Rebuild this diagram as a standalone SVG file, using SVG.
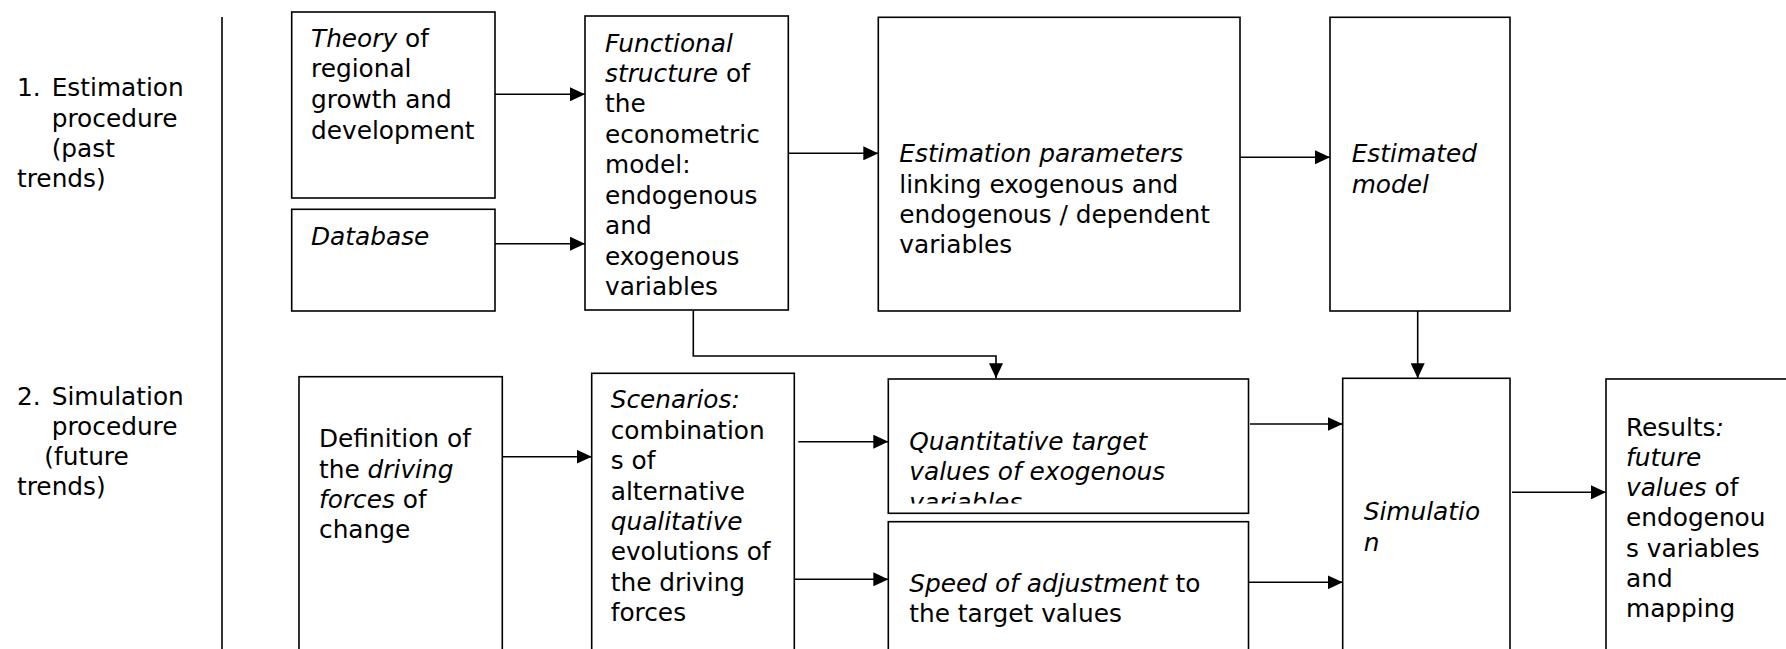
<svg xmlns="http://www.w3.org/2000/svg" width="1786" height="649" viewBox="0 0 1786 649">
<style>
text{font-family:"DejaVu Sans","Verdana",sans-serif;font-size:24.8px;fill:#000}
.i{font-style:italic}
.box{fill:#fff;stroke:#000;stroke-width:1.6}
.c{fill:none;stroke:#000;stroke-width:1.6;marker-end:url(#ah)}
</style>
<defs>
<marker id="ah" viewBox="0 0 15 14" refX="15" refY="7" markerWidth="15" markerHeight="14" markerUnits="userSpaceOnUse" orient="auto">
<path d="M0,0 L15,7 L0,14 Z" fill="#000"/>
</marker>
<clipPath id="qclip"><rect x="889" y="380" width="358" height="123.5"/></clipPath>
</defs>
<rect width="1786" height="649" fill="#fff"/>

<g id="labels">
<line x1="222" y1="17" x2="222" y2="649" stroke="#000" stroke-width="1.6"/>
<text x="17" y="96">1. <tspan x="51.7">Estimation</tspan></text>
<text x="51.7" y="126.5">procedure</text>
<text x="51.7" y="157">(past</text>
<text x="17" y="187">trends)</text>
<text x="17" y="405">2. <tspan x="51.7">Simulation</tspan></text>
<text x="51.7" y="435">procedure</text>
<text x="44.3" y="465">(future</text>
<text x="17" y="495">trends)</text>
</g>

<g id="connectors">
<path class="c" d="M495,94.3 H585"/>
<path class="c" d="M495,243.7 H585"/>
<path class="c" d="M788.3,153.3 H878.3"/>
<path class="c" d="M1240,157.3 H1330"/>
<path class="c" d="M693.3,310 V356 H996 V378.3"/>
<path class="c" d="M1417.7,311 V378.3"/>
<path class="c" d="M502.3,456.7 H591.7"/>
<path class="c" d="M798.3,441.7 H888.3"/>
<path class="c" d="M794.3,579.3 H888.3"/>
<path class="c" d="M1250,424 H1342.7"/>
<path class="c" d="M1248.5,582.3 H1342.7"/>
<path class="c" d="M1512,492.3 H1606"/>
</g>

<g id="theory">
<rect class="box" x="291.7" y="12" width="203.3" height="186"/>
<text x="311" y="46.7"><tspan class="i">Theory</tspan> of</text>
<text x="311" y="77.3">regional</text>
<text x="311" y="108">growth and</text>
<text x="311" y="138.5">development</text>
</g>

<g id="database">
<rect class="box" x="291.7" y="209.3" width="203.3" height="101.7"/>
<text class="i" x="311" y="245">Database</text>
</g>

<g id="functional">
<rect class="box" x="585" y="16" width="203.3" height="294"/>
<text class="i" x="605" y="51.5">Functional</text>
<text x="605" y="82"><tspan class="i">structure</tspan> of</text>
<text x="605" y="112.4">the</text>
<text x="605" y="142.9">econometric</text>
<text x="605" y="173.3">model:</text>
<text x="605" y="203.8">endogenous</text>
<text x="605" y="234.2">and</text>
<text x="605" y="264.7">exogenous</text>
<text x="605" y="295.1">variables</text>
</g>

<g id="estimation-parameters">
<rect class="box" x="878.3" y="17.3" width="361.7" height="293.7"/>
<text class="i" x="899.3" y="162">Estimation parameters</text>
<text x="899.3" y="192.5">linking exogenous and</text>
<text x="899.3" y="223">endogenous / dependent</text>
<text x="899.3" y="253">variables</text>
</g>

<g id="estimated-model">
<rect class="box" x="1330" y="17.3" width="180" height="293.7"/>
<text class="i" x="1351.7" y="162.3">Estimated</text>
<text class="i" x="1351.7" y="192.5">model</text>
</g>

<g id="definition">
<rect class="box" x="299" y="376.7" width="203.3" height="290"/>
<text x="319" y="447.3">Definition of</text>
<text x="319" y="477.7">the <tspan class="i">driving</tspan></text>
<text x="319" y="508"><tspan class="i">forces</tspan> of</text>
<text x="319" y="538.4">change</text>
</g>

<g id="scenarios">
<rect class="box" x="591.7" y="373.3" width="202.6" height="290"/>
<text class="i" x="610.7" y="408.3">Scenarios:</text>
<text x="610.7" y="438.7">combination</text>
<text x="610.7" y="469.1">s of</text>
<text x="610.7" y="499.5">alternative</text>
<text class="i" x="610.7" y="529.9">qualitative</text>
<text x="610.7" y="560.3">evolutions of</text>
<text x="610.7" y="590.7">the driving</text>
<text x="610.7" y="621.1">forces</text>
</g>

<g id="quantitative">
<rect class="box" x="888.3" y="379" width="360.2" height="134.3"/>
<g clip-path="url(#qclip)">
<text class="i" x="909.3" y="450">Quantitative target</text>
<text class="i" x="909.3" y="480.4">values of exogenous</text>
<text class="i" x="909.3" y="510.8">variables</text>
</g>
</g>

<g id="speed">
<rect class="box" x="888.3" y="521.7" width="360.2" height="150"/>
<text x="909.3" y="591.7"><tspan class="i">Speed of adjustment</tspan> to</text>
<text x="909.3" y="621.9">the target values</text>
</g>

<g id="simulation">
<rect class="box" x="1342.7" y="378.3" width="167.3" height="290"/>
<text class="i" x="1363.7" y="520">Simulatio</text>
<text class="i" x="1363.7" y="550.5">n</text>
</g>

<g id="results">
<rect class="box" x="1606" y="379" width="200" height="290"/>
<text x="1626" y="436">Results<tspan class="i">:</tspan></text>
<text class="i" x="1626" y="465.8">future</text>
<text x="1626" y="496"><tspan class="i">values</tspan> of</text>
<text x="1626" y="526.3">endogenou</text>
<text x="1626" y="556.6">s variables</text>
<text x="1626" y="586.9">and</text>
<text x="1626" y="617.2">mapping</text>
</g>
</svg>
